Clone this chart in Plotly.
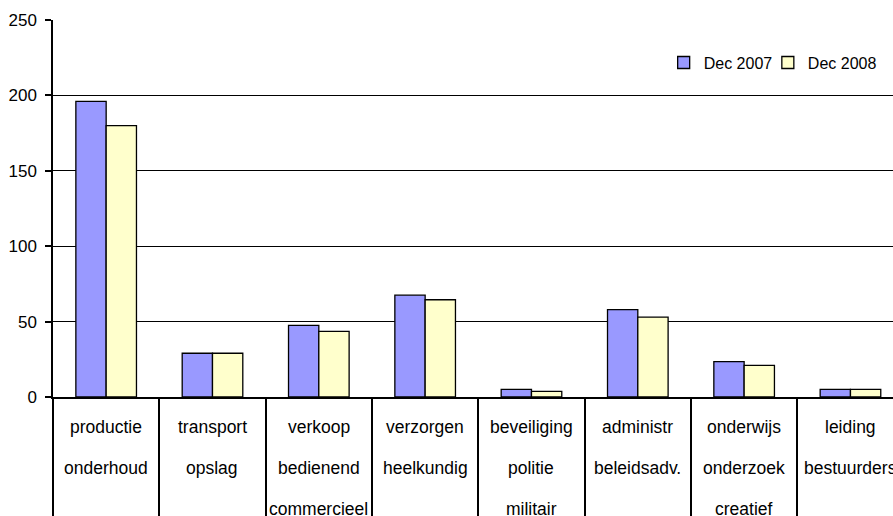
import plotly.graph_objects as go

categories = ["productie<br>onderhoud", "transport<br>opslag", "verkoop<br>bedienend<br>commercieel",
              "verzorgen<br>heelkundig", "beveiliging<br>politie<br>militair", "administr<br>beleidsadv.",
              "onderwijs<br>onderzoek<br>creatief", "leiding<br>bestuurders"]
dec2007 = [196, 29, 47.5, 67.5, 5, 58, 23.5, 5]
dec2008 = [180, 29, 43.5, 64.5, 3.7, 53, 21, 5]
y_ticks = [0, 50, 100, 150, 200, 250]

FONT = "Liberation Sans, Arial, sans-serif"
cat_keys = [c.replace("<br>", " ") for c in categories]

fig = go.Figure()
fig.add_trace(go.Bar(x=cat_keys, y=dec2007, name="Dec 2007", legend="legend",
                     marker=dict(color="#9999FF", line=dict(color="black", width=1.3))))
fig.add_trace(go.Bar(x=cat_keys, y=dec2008, name="Dec 2008", legend="legend2",
                     marker=dict(color="#FFFFCC", line=dict(color="black", width=1.3))))

# category labels, one annotation per line with wide line spacing
line_offsets = [29.5, 70.5, 111.7]
for key, lab in zip(cat_keys, categories):
    for j, part in enumerate(lab.split("<br>")):
        fig.add_annotation(x=key, y=0, xref="x", yref="paper", text=part, showarrow=False,
                           yshift=-line_offsets[j], xanchor="center", yanchor="middle",
                           font=dict(family=FONT, size=17.5, color="black"))

leg_common = dict(orientation="h", xanchor="left", y=0.887, yanchor="middle",
                  bgcolor="rgba(0,0,0,0)", font=dict(family=FONT, size=16, color="black"),
                  itemwidth=30)

fig.update_layout(
    width=893, height=516,
    margin=dict(l=53, r=0, t=20, b=119, pad=0),
    paper_bgcolor="white", plot_bgcolor="white",
    barmode="group", bargap=0.43, bargroupgap=0,
    font=dict(family=FONT, size=16, color="black"),
    showlegend=True,
    legend=dict(x=0.727, **leg_common),
    legend2=dict(x=0.851, **leg_common),
    xaxis=dict(type="category", range=[-0.5, 7.4], showticklabels=False,
               tickson="boundaries", ticks="outside", ticklen=119, tickwidth=1.5, tickcolor="black",
               showline=True, linecolor="black", linewidth=1.5, showgrid=False, zeroline=False,
               automargin=False),
    yaxis=dict(range=[0, 250], tickvals=y_ticks, ticks="outside", ticklen=6, tickwidth=1.5,
               tickcolor="black", showline=True, linecolor="black", linewidth=1.5,
               showgrid=True, gridcolor="black", gridwidth=1, zeroline=False, automargin=False,
               tickfont=dict(family=FONT, size=17, color="black"), ticklabelstandoff=5),
)

fig.write_html("out.html", config={"displayModeBar": False},
               post_script="document.body.style.margin='0';document.body.style.padding='0';")
